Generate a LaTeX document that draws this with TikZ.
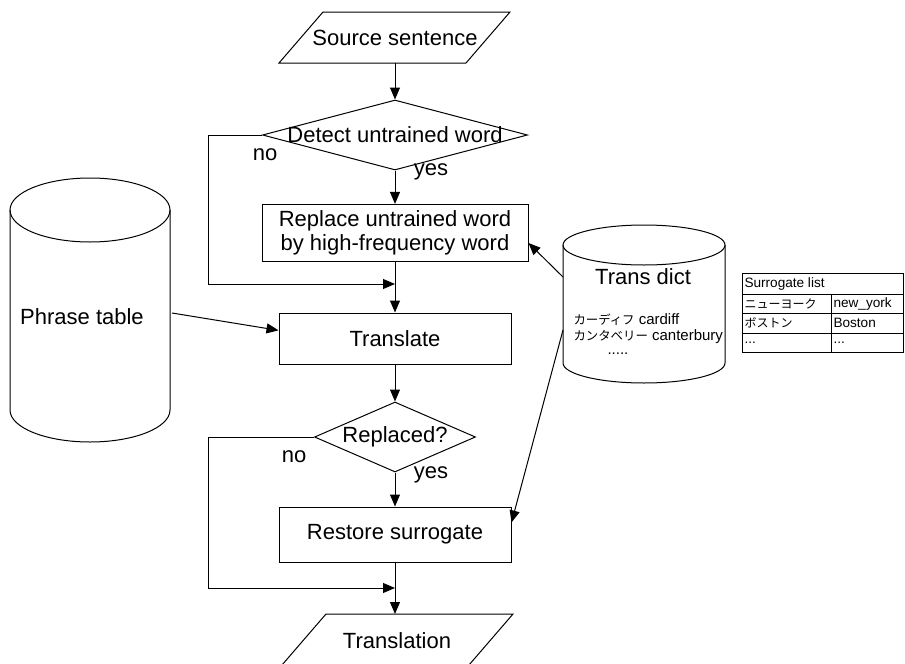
\documentclass[tikz,border=0pt]{standalone}
\usepackage{fontspec}
\setmainfont{Liberation Sans}
\newfontfamily\jpfont{Noto Sans CJK JP}
\usetikzlibrary{shapes.geometric,arrows.meta}

\begin{document}
\begin{tikzpicture}[x=0.5pt,y=-0.5pt,line width=0.5pt,
  font=\fontsize{11}{11.7}\selectfont,
  arr/.style={-{Triangle[length=6pt,width=5pt]}},
  procbox/.style={draw,rectangle,align=center,minimum width=116pt,minimum height=25.5pt},
  testbox/.style={draw,diamond,inner sep=0pt,minimum height=35pt},
  small/.style={font=\fontsize{7.5}{8}\selectfont,inner sep=0pt,anchor=west},
  cell/.style={font=\fontsize{6.8}{7}\selectfont,inner sep=0pt,anchor=west}]

\useasboundingbox (0,0) rectangle (905,664);

% input and output
\draw (279,63) -- (323,12) -- (510,12) -- (466,63) -- cycle;
\node (src) at (395,38) {Source sentence};
\coordinate (srcB) at (395,63);
\draw (282,665) -- (326,614) -- (513,614) -- (469,665) -- cycle;
\node (out) at (397,641) {Translation};
\coordinate (outT) at (395,614);

% main flow
\node[testbox,minimum width=132.5pt,label=center:{Detect untrained word}] (detect) at (395,135) {};
\node[procbox,minimum width=133pt,minimum height=27pt] (replace) at (395,233) {Replace untrained word\\by high-frequency word};
\node[procbox] (translate) at (395,338.5) {Translate};
\node[testbox,minimum width=80.5pt,label=center:{Replaced?}] (replaced) at (395,437) {};
\node[procbox,minimum height=27.5pt] (restore) at (395,534.5) {Restore surrogate};

\draw[arr] (srcB) -- (detect);
\draw[arr] (detect) -- (replace);
\draw[arr] (replace) -- (translate);
\draw[arr] (translate) -- (replaced);
\draw[arr] (replaced) -- (restore);
\draw[arr] (restore) -- (outT);

% no branches
\coordinate (side) at (208,0);
\coordinate (join1) at (395,284);
\coordinate (join2) at (395,588);
\draw[arr] (detect.west) -- (detect.west -| side) |- (join1);
\draw[arr] (replaced.west) -- (replaced.west -| side) |- (join2);

\node (no1) at (265,155) {no};
\node (yes1) at (431,172) {yes};
\node (no2) at (294,457) {no};
\node (yes2) at (431,475) {yes};

% Phrase table
\draw (10,210) -- (10,410) arc[start angle=180,end angle=0,x radius=80,y radius=32] -- (170,210);
\draw (90,210) ellipse [x radius=80,y radius=32];
\node (ptab) at (82,317) {Phrase table};
\coordinate (ptabR) at (172,313);
\draw[arr] (ptabR) -- (translate.176);

% Trans dict
\draw (563,245) -- (563,363) arc[start angle=180,end angle=0,x radius=81,y radius=20] -- (725,245);
\draw (644,245) ellipse [x radius=81,y radius=20];
\node (dict) at (643,277) {Trans dict};
\node[small] (ent1) at (573,320) {{\jpfont\fontsize{6.2}{7}\selectfont カーディフ} cardiff};
\node[small] (ent2) at (573,337) {{\jpfont\fontsize{6.2}{7}\selectfont カンタベリー} canterbury};
\node[small] (ent3) at (607,354) {.....};
\coordinate (dictA) at (563,277);
\coordinate (dictB) at (563,330);
\draw[arr] (dictA) -- ([yshift=-5pt]replace.east);
\draw[arr] (dictB) -- ([yshift=-8pt]restore.north east);

% Surrogate list
\draw (742,273) rectangle (903,352);
\draw (742,294) -- (903,294);
\draw (742,313) -- (903,313);
\draw (742,333) -- (903,333);
\draw (831,294) -- (831,352);
\node[cell] (shead) at (744,283.5) {Surrogate list};
\node[cell] (sja1) at (744,303.5) {{\jpfont\fontsize{6}{7}\selectfont ニューヨーク}};
\node[cell] (sen1) at (833,303.5) {new\_york};
\node[cell] (sja2) at (744,323) {{\jpfont\fontsize{6}{7}\selectfont ボストン}};
\node[cell] (sen2) at (833,323) {Boston};
\node[cell] (sja3) at (744,342.5) {...};
\node[cell] (sen3) at (833,342.5) {...};

\end{tikzpicture}
\end{document}
